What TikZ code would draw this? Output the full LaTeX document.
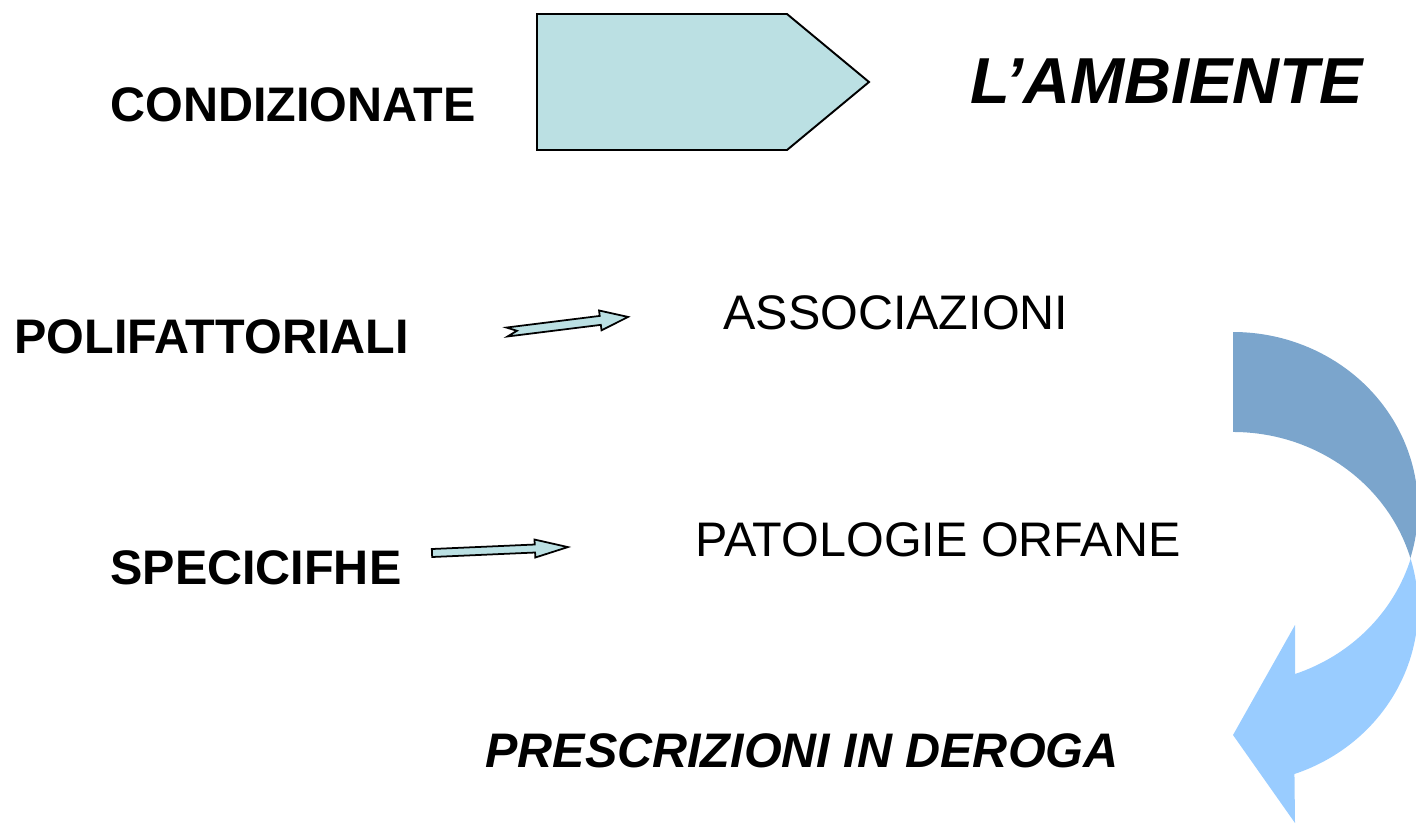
\documentclass[tikz,border=0pt]{standalone}
\usepackage{fontspec}
\setmainfont{Liberation Sans}
\usepackage{tikz}
\usetikzlibrary{positioning}
\definecolor{boxcyan}{RGB}{187,224,227}
\definecolor{bendback}{RGB}{123,165,204}
\definecolor{bendfront}{RGB}{153,204,255}
\tikzstyle{label} = [
    anchor=base west,
    inner sep=0pt,
    font=\fontsize{27.6}{32}\selectfont
]
\tikzstyle{blockarrow} = [
    draw=black,
    line width=1pt,
    line join=miter,
    fill=boxcyan
]
\begin{document}
\begin{tikzpicture}[x=0.02cm, y=0.02cm]
    \clip (0,0) rectangle (1416,-823);
    % top row
    \node[label, font=\fontsize{27.6}{32}\selectfont\bfseries] (cond) at (110,-121) {CONDIZIONATE};
    \draw[blockarrow, line width=1.1pt] (537,-14) -- (787,-14) -- (869,-82) -- (787,-150) -- (537,-150) -- cycle;
    \node[label, font=\fontsize{37}{42}\selectfont\bfseries\itshape] (amb) at (970,-103) {L’AMBIENTE};
    % middle rows
    \node[label, font=\fontsize{27.6}{32}\selectfont\bfseries] (poli) at (14,-353) {POLIFATTORIALI};
    \begin{scope}[shift={(507,-332)}, rotate=7.1]
        \draw[blockarrow] (0,4.5) -- (94,4.5) -- (94,10) -- (122,0) -- (94,-10) -- (94,-4.5) -- (0,-4.5) -- (10,0) -- cycle;
    \end{scope}
    \node[label] (assoc) at (723,-329) {ASSOCIAZIONI};
    \node[label, font=\fontsize{27.6}{32}\selectfont\bfseries] (spec) at (110,-584) {SPECICIFHE};
    \begin{scope}[shift={(432,-553)}, rotate=2.5]
        \draw[blockarrow] (0,4) -- (103,4) -- (103,9) -- (136,0) -- (103,-9) -- (103,-4) -- (0,-4) -- cycle;
    \end{scope}
    \node[label] (orph) at (695,-556) {PATOLOGIE ORFANE};
    \node[label, font=\fontsize{27.6}{32}\selectfont\bfseries\itshape] (presc) at (485,-767) {PRESCRIZIONI IN DEROGA};
    % curved arrow on the right
    \fill[bendback] (1233,-332) arc[start angle=90, end angle=-16.5, x radius=185, y radius=176]
        arc[start angle=16.5, end angle=90, x radius=185, y radius=176] -- cycle;
    \fill[bendfront] (1233,-608) ++(16.5:185 and 176)
        arc[start angle=16.5, end angle=-70.6, x radius=185, y radius=176]
        -- (1295,-823) -- (1233,-735) -- (1295,-625) -- (1295,-674)
        arc[start angle=-70.6, end angle=-16.5, x radius=185, y radius=176] -- cycle;
\end{tikzpicture}
\end{document}
